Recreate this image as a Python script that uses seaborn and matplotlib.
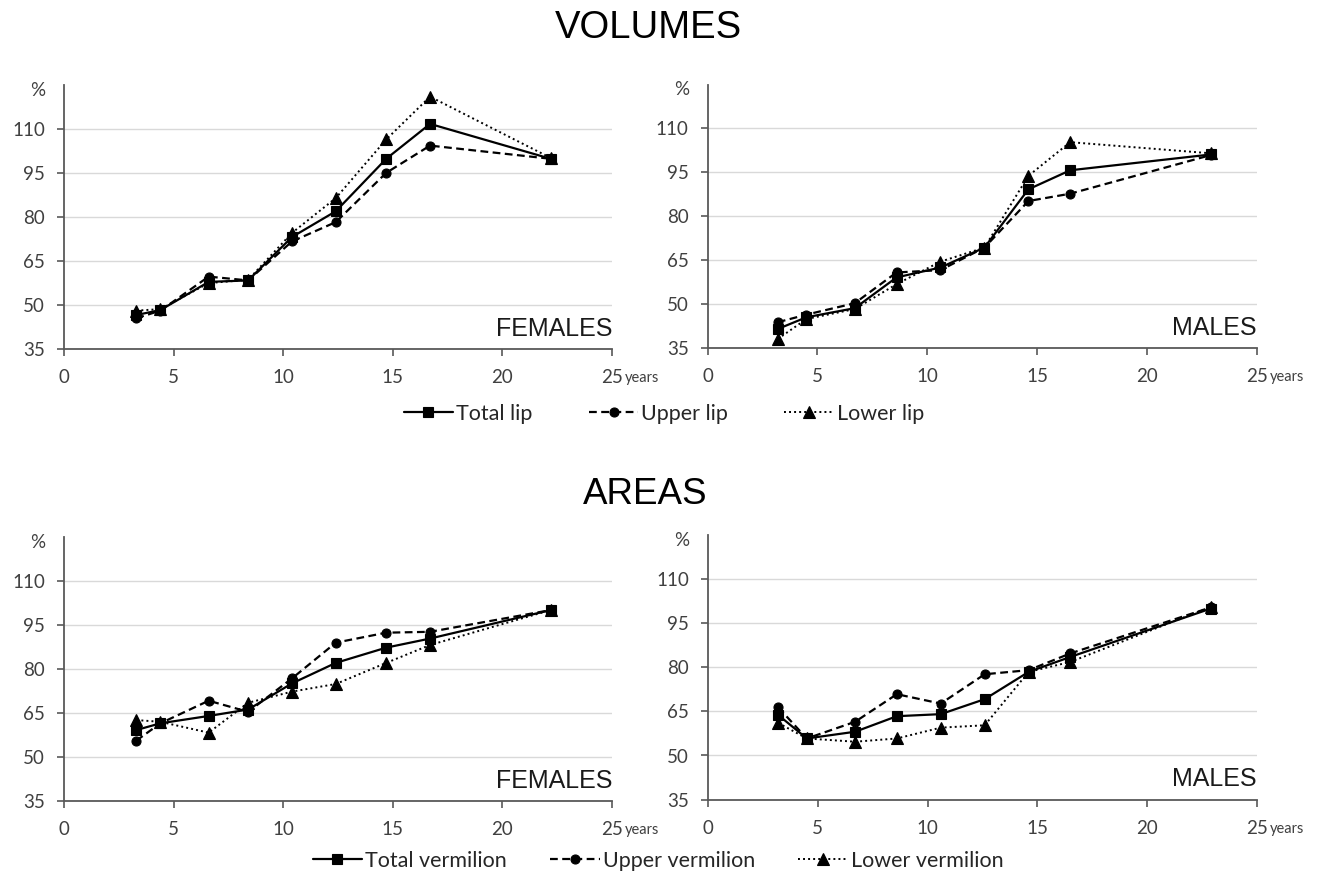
import matplotlib
matplotlib.use("Agg")
import matplotlib.pyplot as plt
import seaborn as sns
import pandas as pd

# ---------------- data ----------------
age_f = [3.3, 4.4, 6.6, 8.4, 10.4, 12.4, 14.7, 16.7, 22.2]
age_m = [3.2, 4.5, 6.7, 8.6, 10.6, 12.6, 14.6, 16.5, 22.9]

vol_f_total = [46.7, 48.4, 58.0, 58.5, 73.3, 82.1, 100.0, 111.9, 100.0]
vol_f_upper = [45.6, 48.2, 59.8, 58.5, 71.8, 78.4, 95.2, 104.5, 100.0]
vol_f_lower = [48.2, 48.7, 57.6, 58.7, 74.7, 86.6, 106.6, 121.2, 100.3]

vol_m_total = [41.5, 45.5, 48.6, 59.1, 62.5, 69.3, 89.2, 95.7, 101.1]
vol_m_upper = [43.8, 46.4, 50.3, 60.8, 61.6, 69.3, 85.2, 87.7, 100.9]
vol_m_lower = [38.1, 44.9, 48.3, 56.8, 64.5, 69.3, 93.8, 105.3, 101.5]

area_f_total = [59.1, 61.4, 63.9, 66.1, 75.0, 82.0, 87.2, 90.3, 100.0]
area_f_upper = [55.5, 61.4, 69.1, 65.3, 76.7, 88.9, 92.3, 92.6, 100.0]
area_f_lower = [62.5, 61.9, 58.2, 68.4, 72.2, 74.8, 82.0, 88.1, 100.0]

area_m_total = [63.8, 55.8, 58.1, 63.4, 64.1, 69.2, 78.5, 83.6, 100.1]
area_m_upper = [66.4, 55.8, 61.5, 70.9, 67.7, 77.7, 79.1, 84.8, 100.5]
area_m_lower = [61.1, 55.8, 54.7, 55.8, 59.5, 60.3, 78.5, 81.9, 100.7]

vol_labels = ["Total lip", "Upper lip", "Lower lip"]
area_labels = ["Total vermilion", "Upper vermilion", "Lower vermilion"]
panel_texts = ["FEMALES", "MALES"]
y_ticks = [35, 50, 65, 80, 95, 110]
x_ticks = [0, 5, 10, 15, 20, 25]
x_ticklabels = ["0", "5", "10", "15", "20", "25"]
section_titles = ["VOLUMES", "AREAS"]

# ---------------- style ----------------
sns.set_style("white")
plt.rcParams["font.family"] = ["Lato", "DejaVu Sans"]

W, H = 1323, 872
fig = plt.figure(figsize=(W / 100, H / 100), dpi=100)

def rect(l, r, b, t):
    return [l / W, (H - b) / H, (r - l) / W, (b - t) / H]

axes = {
    ("vol", "f"): fig.add_axes(rect(64, 612, 349.3, 85.5)),
    ("vol", "m"): fig.add_axes(rect(707.5, 1257, 348, 84.5)),
    ("area", "f"): fig.add_axes(rect(64, 612, 800.7, 536.8)),
    ("area", "m"): fig.add_axes(rect(708, 1257, 799.5, 535.5)),
}

styles = [
    dict(marker="s", markersize=7, linestyle="-", linewidth=1.6, zorder=5),
    dict(marker="o", markersize=6.5, linestyle=(0, (3.5, 2.0)), linewidth=1.6, zorder=4),
    dict(marker="^", markersize=8, linestyle=(0, (1.0, 1.6)), linewidth=1.4, zorder=3),
]

panels = [
    (("vol", "f"), age_f, [vol_f_total, vol_f_upper, vol_f_lower], vol_labels, "FEMALES"),
    (("vol", "m"), age_m, [vol_m_total, vol_m_upper, vol_m_lower], vol_labels, "MALES"),
    (("area", "f"), age_f, [area_f_total, area_f_upper, area_f_lower], area_labels, "FEMALES"),
    (("area", "m"), age_m, [area_m_total, area_m_upper, area_m_lower], area_labels, "MALES"),
]

spine_col = "#595959"
tick_col = "#404040"

for key, ages, series, labels, ptext in panels:
    ax = axes[key]
    for vals, lab, st in zip(series, labels, styles):
        df = pd.DataFrame({"age": ages, "pct": vals})
        sns.lineplot(data=df, x="age", y="pct", ax=ax, color="black",
                     label=lab, errorbar=None, markeredgewidth=0.8,
                     markeredgecolor="black", clip_on=False, **st)
    ax.set_xlim(0, 25)
    ax.set_ylim(35, 125)
    ax.set_xticks(x_ticks)
    ax.set_xticklabels(x_ticklabels)
    ax.set_yticks(y_ticks)
    ax.set_xlabel("")
    ax.set_ylabel("")
    ax.yaxis.grid(True, color="#d9d9d9", linewidth=1.0)
    ax.xaxis.grid(False)
    ax.set_axisbelow(True)
    for s in ["top", "right"]:
        ax.spines[s].set_visible(False)
    for s in ["left", "bottom"]:
        ax.spines[s].set_color(spine_col)
        ax.spines[s].set_linewidth(1.3)
    ax.tick_params(axis="both", which="major", direction="out", length=5,
                   width=1.2, color=spine_col, labelcolor=tick_col, labelsize=13.5)
    ax.tick_params(axis="y", pad=8.5, left=True)
    ax.tick_params(axis="x", pad=9.5, bottom=True)
    ax.text(-0.034, 123.2, "%", transform=ax.get_yaxis_transform(),
            ha="right", va="center", fontsize=13.5, color=tick_col)
    ax.annotate("years", xy=(25, 0), xycoords=("data", "axes fraction"),
                xytext=(9, -23.8), textcoords="offset points",
                ha="left", va="baseline", fontsize=10.5, color=tick_col)
    ax.text(1.0, 0.05, ptext, transform=ax.transAxes, ha="right", va="baseline",
            fontsize=18, family=["Liberation Sans", "DejaVu Sans"], color="#1a1a1a")
    ax.get_legend().remove()

# section titles
fig.text(648 / W, (H - 28) / H, section_titles[0], ha="center", va="center",
         fontsize=27.5, family=["Liberation Sans", "DejaVu Sans"], color="black")
fig.text(645 / W, (H - 494.5) / H, section_titles[1], ha="center", va="center",
         fontsize=26.5, family=["Liberation Sans", "DejaVu Sans"], color="black")

# legends
h1, l1 = axes[("vol", "f")].get_legend_handles_labels()
fig.legend(h1, l1, loc="center", bbox_to_anchor=(664 / W, (H - 414) / H),
           ncol=3, frameon=False, fontsize=15.5, handlelength=2.3,
           handletextpad=0.15, columnspacing=2.6, numpoints=1,
           labelcolor="#262626")
h2, l2 = axes[("area", "f")].get_legend_handles_labels()
fig.legend(h2, l2, loc="center", bbox_to_anchor=(658 / W, (H - 861) / H),
           ncol=3, frameon=False, fontsize=15.5, handlelength=2.3,
           handletextpad=0.15, columnspacing=2.0, numpoints=1,
           labelcolor="#262626", borderpad=0.1)

fig.savefig("out.png", dpi=100)
